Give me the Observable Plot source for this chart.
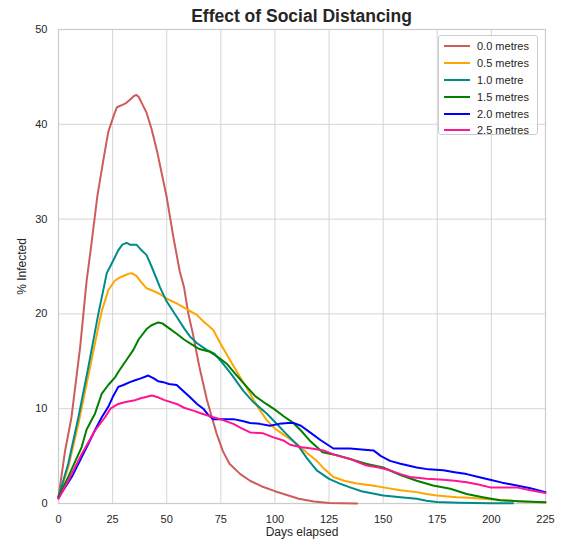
<!DOCTYPE html>
<html>
<head>
<meta charset="utf-8">
<script src="https://cdn.jsdelivr.net/npm/d3@7"></script>
<script src="https://cdn.jsdelivr.net/npm/@observablehq/plot@0.6"></script>
<style>
  body { margin: 0; background: white; font-family: "Liberation Sans", Arial, sans-serif; }
  #wrap { position: relative; width: 561px; height: 545px; }
  #title { position: absolute; left: 58px; width: 487px; top: 5px; text-align: center;
           font-weight: bold; font-size: 17.5px; color: #262626; line-height: 22px; }
  #legend { position: absolute; left: 438px; top: 35px; width: 100px; height: 100px;
            border: 1px solid #cccccc; border-radius: 3px; background: rgba(255,255,255,0.8);
            box-sizing: border-box; padding-top: 2px; }
  .row { height: 16.8px; display: flex; align-items: center; font-size: 11px; color: #262626; }
  .sw { width: 26px; height: 2px; margin-left: 5px; margin-right: 7px; }
</style>
</head>
<body>
<div id="wrap">
  <div id="chart"></div>
  <div id="title">Effect of Social Distancing</div>
  <div id="legend"></div>
</div>
<script>
const xTicks = [0, 25, 50, 75, 100, 125, 150, 175, 200, 225];
const yTicks = [0, 10, 20, 30, 40, 50];
const seriesNames = ["0.0 metres", "0.5 metres", "1.0 metre", "1.5 metres", "2.0 metres", "2.5 metres"];
const seriesColors = ["#cd5c5c", "#ffa500", "#008b8b", "#008000", "#0000ff", "#ff1493"];

const s00 = [[0,0.7],[3,5.5],[6,9.1],[10,16.5],[13,23.5],[15,27],[18,32.5],[20.7,36.2],[23,39.2],[25.8,41.1],[27,41.8],[29,42.0],[31,42.2],[33,42.6],[35,43.0],[36,43.1],[37,42.9],[39,42],[40.7,41.2],[43,39.5],[45.4,37.3],[48,34.5],[50,32.3],[53,28.2],[56,24.5],[58,22.8],[60,20],[62,18],[65,14.5],[68.5,11],[71,9],[73,7.4],[76,5.5],[79,4.2],[84,3.1],[88.5,2.4],[94,1.8],[100,1.3],[104,1.0],[111,0.5],[118,0.2],[125,0.05],[138,0]];
const s05 = [[0,0.7],[4.5,3.8],[9.2,8.4],[14.6,14.4],[18.4,18.6],[20,20.3],[21.5,21.4],[23,22.5],[26,23.5],[28,23.8],[30,24.0],[32,24.2],[33.8,24.3],[36,24.0],[38,23.4],[40.7,22.7],[43,22.5],[46.9,22.1],[50,21.6],[54.6,21.1],[60,20.4],[63.9,19.9],[67,19.2],[71.5,18.3],[75,16.8],[79.3,15.1],[84,13.3],[88.5,11.6],[92,10.2],[96.2,8.8],[100,7.9],[105,7.1],[110,6.3],[115,5.3],[119.3,4.5],[123,3.6],[127,2.8],[132,2.4],[137.8,2.1],[145,1.9],[150,1.7],[158,1.4],[165.5,1.2],[170,1.0],[174.8,0.85],[184,0.67],[190,0.6],[196,0.5],[208.6,0.3],[215,0.2],[225,0.1]];
const s10 = [[0,0.7],[4.5,4.2],[9.2,9.1],[13.8,14.4],[18.4,20.0],[20.5,22.3],[22.3,24.3],[25,25.5],[27.6,26.7],[29.5,27.3],[31.5,27.5],[33,27.3],[36,27.3],[38,26.8],[40.7,26.2],[43,25],[46.9,22.8],[50,21.3],[54.6,19.7],[58,18.5],[60.8,17.6],[64,16.9],[68.5,16.2],[72,15.8],[76,14.75],[80,13.6],[85.3,11.9],[90,10.7],[96.2,9.5],[100,8.6],[105,7.4],[110.7,6.1],[115,4.7],[119.3,3.5],[125,2.6],[130,2.1],[134.7,1.7],[140,1.3],[150,0.85],[158,0.65],[165.5,0.5],[170,0.3],[174.8,0.15],[185,0.08],[200,0.03],[210,0.02]];
const s15 = [[0,0.7],[4.5,2.8],[10.7,5.95],[13,7.8],[16.9,9.5],[20,11.6],[23,12.5],[26.1,13.3],[28,14.0],[31,15],[34.6,16.2],[37,17.3],[40.7,18.4],[43,18.8],[46.1,19.1],[48,19.0],[51,18.5],[54.6,17.9],[58,17.3],[60.8,16.9],[65,16.3],[70,16.0],[74,15.4],[77.7,14.75],[82,13.6],[87,12.3],[91,11.3],[96,10.5],[100,9.9],[104,9.2],[108.5,8.5],[112,7.7],[116,6.65],[122,5.4],[128.6,5.1],[134.7,4.7],[142,4.2],[150,3.8],[158,3.0],[165.5,2.4],[173,1.9],[181,1.55],[188.6,1.0],[196,0.67],[204,0.35],[212,0.25],[225,0.12]];
const s20 = [[0,0.6],[6.1,2.8],[13.8,6.3],[17,7.8],[20,9.1],[23,10.2],[25,11.2],[27.6,12.3],[30,12.5],[33,12.8],[35.4,13.0],[38,13.2],[41.5,13.5],[44,13.2],[46,12.9],[48.4,12.8],[51,12.6],[54.6,12.5],[57,12.0],[60.8,11.2],[64,10.5],[66.9,10.0],[69,9.4],[71.5,8.9],[75,8.9],[80.8,8.9],[85,8.7],[88.5,8.5],[93,8.4],[97.7,8.2],[102,8.4],[106,8.5],[108.5,8.5],[112,8.2],[116.2,7.5],[121,6.7],[127,5.8],[131,5.8],[134.7,5.8],[140,5.7],[145.5,5.6],[149,5.0],[153.2,4.5],[158,4.2],[165.5,3.8],[171,3.6],[177.8,3.5],[183,3.3],[188.6,3.1],[194,2.8],[199.4,2.5],[205,2.2],[211.7,1.9],[218,1.6],[225,1.2]];
const s25 = [[0,0.5],[4.5,2.4],[10.7,5.2],[16.9,7.7],[21.5,9.1],[24,10.0],[27.6,10.5],[31,10.7],[35.4,10.9],[38,11.1],[43.1,11.4],[46,11.2],[49,10.9],[54.6,10.5],[58,10.1],[62.3,9.8],[66,9.5],[71.5,9.1],[76,8.8],[80.8,8.4],[84,8.0],[88.5,7.5],[94.6,7.4],[99,7.0],[103.9,6.65],[107,6.2],[111.6,5.95],[117,5.8],[122.4,5.6],[128,5.1],[134.7,4.7],[138,4.4],[142.4,4.0],[148,3.8],[153.2,3.5],[158,3.1],[162.4,2.8],[170,2.6],[177.8,2.5],[183,2.4],[188.6,2.25],[194,2.0],[199.4,1.7],[205,1.7],[211.7,1.7],[218,1.4],[225,1.1]];

const allSeries = [s00, s05, s10, s15, s20, s25];
const data = allSeries.flatMap((s, i) => s.map(([day, value]) => ({day, value, series: seriesNames[i]})));

const chart = Plot.plot({
  width: 561,
  height: 545,
  marginTop: 29,
  marginBottom: 42,
  marginLeft: 58,
  marginRight: 16,
  style: {fontFamily: "'Liberation Sans', Arial, sans-serif", fontSize: "11px", color: "#262626", background: "white"},
  x: {domain: [0, 225]},
  y: {domain: [0, 50]},
  color: {domain: seriesNames, range: seriesColors},
  marks: [
    Plot.gridX(xTicks, {stroke: "#d5d5d5", strokeOpacity: 1, strokeWidth: 1}),
    Plot.gridY(yTicks, {stroke: "#d5d5d5", strokeOpacity: 1, strokeWidth: 1}),
    Plot.frame({stroke: "#cccccc", strokeWidth: 1.25}),
    Plot.axisX(xTicks, {tickSize: 0, tickPadding: 12, label: null, fill: "#262626"}),
    Plot.axisY(yTicks, {tickSize: 0, tickPadding: 11, label: null, fill: "#262626"}),
    Plot.line(data, {x: "day", y: "value", z: "series", stroke: "series", strokeWidth: 2, strokeLinejoin: "round"}),
    Plot.text(["Days elapsed"], {frameAnchor: "bottom", dy: 32, fontSize: 12, fill: "#262626"}),
    Plot.text(["% Infected"], {frameAnchor: "left", dx: -36, rotate: -90, textAnchor: "middle", fontSize: 12, fill: "#262626"})
  ]
});
document.getElementById("chart").appendChild(chart);

const legend = document.getElementById("legend");
seriesNames.forEach((name, i) => {
  const row = document.createElement("div");
  row.className = "row";
  const sw = document.createElement("div");
  sw.className = "sw";
  sw.style.background = seriesColors[i];
  const lab = document.createElement("span");
  lab.textContent = name;
  row.appendChild(sw);
  row.appendChild(lab);
  legend.appendChild(row);
});
</script>
</body>
</html>
